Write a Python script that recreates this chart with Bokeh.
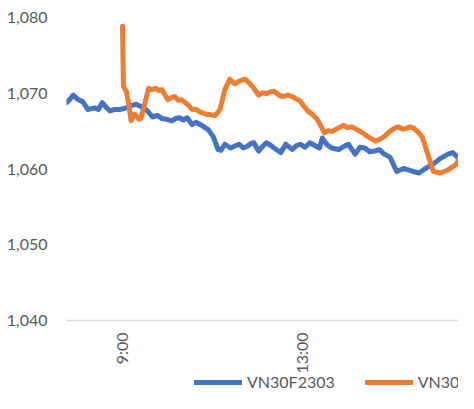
import math
from bokeh.plotting import figure
from bokeh.models import Range1d, FixedTicker, Legend, LegendItem, NumeralTickFormatter, Span
from bokeh.core.properties import value
from bokeh.embed import file_html
from bokeh.resources import INLINE

# sample positions (tick index) and values
blue_idx = [0, 4, 7, 12, 17, 22, 29, 33, 37, 41, 45, 50, 55, 62, 67, 72, 77, 84, 89, 94, 99,
            104, 109, 113, 117, 121, 125, 130, 134, 140, 147, 152, 157, 160, 164, 170, 175, 179,
            183, 187, 191, 194, 199, 203, 207, 211, 215, 222, 227, 234, 238, 242, 247, 252, 259,
            262, 265, 270, 275, 282, 287, 292, 299, 304, 309, 314, 319, 324, 329, 335, 342, 349,
            354, 359, 365, 372, 380, 387, 395, 400, 405]
blue_val = [1068.8, 1069.3, 1069.8, 1069.2, 1068.9, 1067.9, 1068.1, 1067.9, 1068.8, 1068.2, 1067.7,
            1067.9, 1067.9, 1068.1, 1068.4, 1068.6, 1068.3, 1067.7, 1066.9, 1067.1, 1066.7,
            1066.6, 1066.4, 1066.7, 1066.8, 1066.5, 1066.8, 1065.9, 1066.2, 1065.8, 1065.2, 1064.3, 1062.6,
            1062.5, 1063.3, 1062.8, 1063.1, 1063.3, 1062.8, 1063.0, 1063.4, 1063.5, 1062.4, 1063.0,
            1063.5, 1063.2, 1062.8, 1062.2, 1063.3, 1062.6, 1063.1, 1063.3, 1062.9, 1063.5, 1063.0,
            1062.8, 1064.1, 1063.2, 1062.8, 1062.6, 1063.0, 1063.3, 1062.0, 1062.9, 1062.8, 1062.3,
            1062.4, 1062.6, 1062.0, 1061.6, 1059.7, 1060.1, 1059.9, 1059.7, 1059.5, 1060.1, 1060.7,
            1061.4, 1062.0, 1062.2, 1061.6]

orange_idx = [58, 59, 62, 64, 67, 70, 72, 75, 77, 80, 85, 88, 92, 96, 99, 102, 105, 109, 112, 116,
              119, 125, 130, 134, 139, 144, 149, 154, 159, 164, 169, 174, 180, 185, 190, 194, 199,
              203, 207, 211, 215, 220, 224, 229, 234, 238, 242, 246, 250, 255, 259, 264, 267, 271,
              275, 281, 287, 291, 295, 300, 304, 308, 312, 316, 320, 325, 329, 333, 337, 341, 344,
              348, 352, 356, 360, 365, 369, 375, 380, 387, 395, 400, 404, 406]
orange_val = [1078.9, 1070.9, 1070.3, 1069.0, 1066.4, 1067.3, 1067.1, 1066.6, 1066.7, 1068.1,
              1070.7, 1070.5, 1070.7, 1070.4, 1070.5, 1069.8, 1069.2, 1069.5, 1069.6, 1069.1,
              1069.2, 1068.6, 1067.9, 1067.9, 1067.5, 1067.3, 1067.2, 1067.1, 1067.9, 1070.5,
              1071.9, 1071.3, 1071.7, 1071.9, 1071.3, 1070.7, 1069.8, 1070.1, 1070.0, 1070.2,
              1070.3, 1069.8, 1069.6, 1069.8, 1069.6, 1069.3, 1069.0, 1068.3, 1067.7, 1067.2,
              1066.7, 1065.6, 1064.8, 1065.1, 1065.0, 1065.4, 1065.8, 1065.5, 1065.6, 1065.3,
              1065.0, 1064.7, 1064.3, 1064.0, 1063.7, 1064.0, 1064.3, 1064.8, 1065.2, 1065.5,
              1065.6, 1065.3, 1065.4, 1065.6, 1065.4, 1064.8, 1064.1, 1061.6, 1059.7, 1059.5,
              1059.9, 1060.3, 1060.7, 1061.3]

y_ticks = [1040, 1050, 1060, 1070, 1080]
y_base = 1040
tick_pos = [57, 243]
tick_labels = ["9:00", "13:00"]
series_names = ["VN30F2303", "VN30"]

FONT = "Lato"
GREY = "#595959"

# frame covers the whole height; 1040 sits 73px above the bottom, leaving room for labels + legend
p = figure(width=458, height=393, output_backend="svg", toolbar_location=None,
           x_range=Range1d(0, 406), y_range=Range1d(1030.35, 1082.3),
           min_border_left=66, min_border_right=0, min_border_top=0, min_border_bottom=0)
p.outline_line_color = None
p.grid.grid_line_color = None
p.background_fill_color = "white"
p.xaxis.visible = False

p.yaxis.ticker = FixedTicker(ticks=y_ticks)
p.yaxis.formatter = NumeralTickFormatter(format="0,0")
p.yaxis.axis_line_color = None
p.yaxis.major_tick_line_color = None
p.yaxis.minor_tick_line_color = None
p.yaxis.major_tick_out = 0
p.yaxis.major_label_standoff = 19
p.yaxis.major_label_text_font = FONT
p.yaxis.major_label_text_font_size = "16px"
p.yaxis.major_label_text_color = GREY

# category axis baseline
p.add_layout(Span(location=y_base, dimension="width", line_color="#d9d9d9", line_width=1.5))

# category tick labels, rotated, hanging below the baseline
p.text(x=tick_pos, y=[y_base] * len(tick_pos), text=tick_labels, angle=math.pi / 2,
       y_offset=12, text_align="right", text_baseline="middle",
       text_font=value(FONT), text_font_size=value("16px"), text_color=GREY)

r1 = p.line(blue_idx, blue_val, line_color="#4472C4", line_width=5, line_join="round", line_cap="round")
r2 = p.line(orange_idx, orange_val, line_color="#ED7D31", line_width=5, line_join="round", line_cap="round")

legend = Legend(items=[LegendItem(label=series_names[0], renderers=[r1]),
                       LegendItem(label=series_names[1], renderers=[r2])],
                orientation="horizontal", location=(128, 2),
                glyph_width=48, glyph_height=16, label_standoff=5, spacing=30,
                padding=0, margin=0, border_line_color=None, background_fill_alpha=0,
                label_text_font=FONT, label_text_font_size="16px", label_text_color=GREY)
p.add_layout(legend, "center")

open("out.html", "w").write(file_html(p, INLINE))
